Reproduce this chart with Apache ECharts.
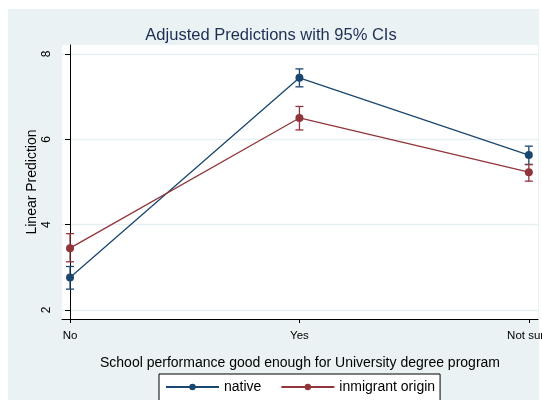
<!DOCTYPE html>
<html>
<head>
<meta charset="utf-8">
<script src="https://cdn.jsdelivr.net/npm/echarts@6/dist/echarts.min.js"></script>
<style>
html,body{margin:0;padding:0;background:#fff;}
#c{width:542px;height:400px;}
</style>
</head>
<body>
<div id="c"></div>
<script>
const categories = ['No', 'Yes', 'Not sure'];
const yTicks = [2, 4, 6, 8];
const nativeMean = [2.76, 7.44, 5.63];
const nativeLow  = [2.49, 7.23, 5.41];
const nativeHigh = [3.02, 7.65, 5.84];
const immMean = [3.45, 6.50, 5.23];
const immLow  = [3.13, 6.22, 5.02];
const immHigh = [3.79, 6.77, 5.41];

const NAVY = '#1a476f';
const MAROON = '#90353b';
const FONT = 'Liberation Sans, Arial, sans-serif';

function ciData(low, high) {
  return categories.map((c, i) => [i, low[i], high[i]]);
}
function errorBar(color) {
  return function (params, api) {
    const x = api.value(0);
    const lo = api.coord([x, api.value(1)]);
    const hi = api.coord([x, api.value(2)]);
    const cap = 4;
    const style = { stroke: color, lineWidth: 1.3 };
    return {
      type: 'group',
      children: [
        { type: 'line', shape: { x1: lo[0], y1: lo[1], x2: hi[0], y2: hi[1] }, style },
        { type: 'line', shape: { x1: lo[0] - cap, y1: lo[1], x2: lo[0] + cap, y2: lo[1] }, style },
        { type: 'line', shape: { x1: hi[0] - cap, y1: hi[1], x2: hi[0] + cap, y2: hi[1] }, style }
      ]
    };
  };
}

const chart = echarts.init(document.getElementById('c'), null, { renderer: 'canvas' });
chart.setOption({
  animation: false,
  backgroundColor: '#ffffff',
  graphic: [{
    type: 'rect', z: -10, silent: true,
    shape: { x: 8, y: 9, width: 531, height: 391 },
    style: { fill: '#eaf2f3' }
  }],
  title: {
    text: 'Adjusted Predictions with 95% CIs',
    left: 'center', top: 22,
    textStyle: { fontFamily: FONT, fontSize: 16.5, fontWeight: 'normal', color: '#1e2d53' }
  },
  grid: {
    left: 62, right: 4, top: 45, bottom: 81,
    outerBoundsMode: 'none', containLabel: false,
    show: true, backgroundColor: '#ffffff', borderWidth: 0
  },
  legend: {
    data: ['native', 'inmigrant origin'],
    left: 159, top: 374,
    backgroundColor: '#ffffff', borderColor: '#000000', borderWidth: 1,
    padding: [6, 5, 10, 6],
    itemWidth: 53, itemHeight: 8, itemGap: 19,
    textStyle: { fontFamily: FONT, fontSize: 14, color: '#000' }
  },
  xAxis: {
    type: 'value',
    min: -0.035, max: 2.04,
    name: 'School performance good enough for University degree program',
    nameLocation: 'middle', nameGap: 37, nameMoveOverlap: false,
    nameTextStyle: { fontFamily: FONT, fontSize: 14, color: '#000' },
    axisLine: { show: true, lineStyle: { color: '#000', width: 1 } },
    axisTick: { show: true, length: 4, customValues: [0, 1, 2], lineStyle: { color: '#000' } },
    axisLabel: {
      customValues: [0, 1, 2], margin: 11,
      formatter: v => categories[Math.round(v)],
      fontFamily: FONT, fontSize: 11.5, color: '#000'
    },
    splitLine: { show: false }
  },
  yAxis: {
    type: 'value',
    min: 1.79, max: 8.21,
    name: 'Linear Prediction',
    nameLocation: 'middle', nameGap: 23, nameRotate: 90, nameMoveOverlap: false,
    nameTextStyle: { fontFamily: FONT, fontSize: 14, color: '#000' },
    axisLine: { show: true, lineStyle: { color: '#000', width: 1 } },
    axisTick: { show: true, length: 5, customValues: yTicks, lineStyle: { color: '#000' } },
    axisLabel: {
      customValues: yTicks, rotate: 90, margin: 9,
      fontFamily: FONT, fontSize: 12, color: '#000'
    },
    splitLine: { show: true, lineStyle: { color: '#e6eff1', width: 1.3 } }
  },
  series: [
    {
      name: 'native', type: 'line',
      data: categories.map((c, i) => [i, nativeMean[i]]),
      color: NAVY,
      lineStyle: { width: 1.3, color: NAVY },
      symbol: 'circle', symbolSize: 8,
      itemStyle: { color: NAVY },
      z: 3
    },
    {
      name: 'inmigrant origin', type: 'line',
      data: categories.map((c, i) => [i, immMean[i]]),
      color: MAROON,
      lineStyle: { width: 1.3, color: MAROON },
      symbol: 'circle', symbolSize: 8,
      itemStyle: { color: MAROON },
      z: 3
    },
    {
      name: 'native CI', type: 'custom',
      renderItem: errorBar(NAVY),
      data: ciData(nativeLow, nativeHigh),
      encode: { x: 0, y: [1, 2] }, z: 2
    },
    {
      name: 'inmigrant CI', type: 'custom',
      renderItem: errorBar(MAROON),
      data: ciData(immLow, immHigh),
      encode: { x: 0, y: [1, 2] }, z: 2
    }
  ]
});
</script>
</body>
</html>
